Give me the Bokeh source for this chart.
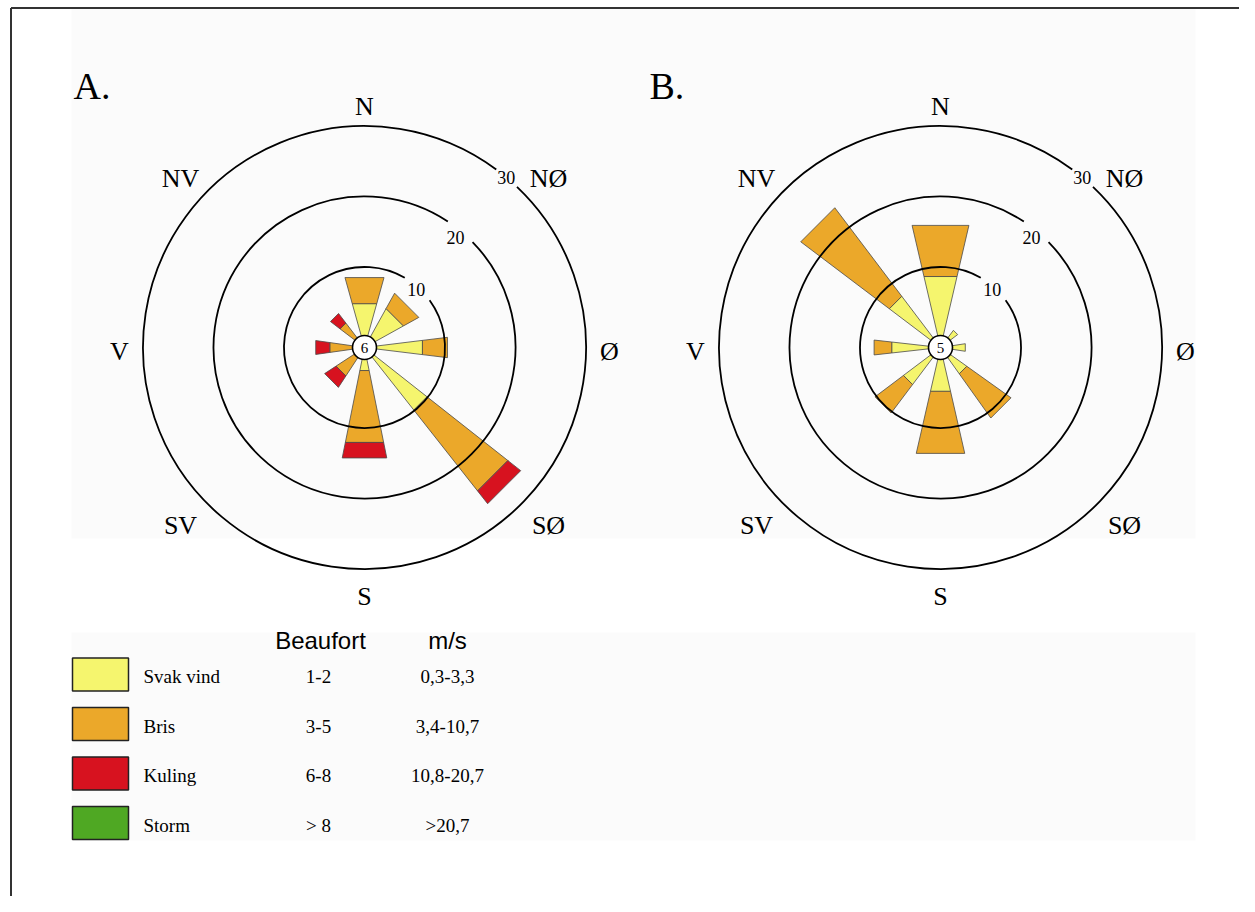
import math
from bokeh.plotting import figure
from bokeh.models import Range1d, ColumnDataSource
from bokeh.core.properties import value
from bokeh.embed import file_html
from bokeh.resources import INLINE

# ---------------- data ----------------
directions = ["N", "NØ", "Ø", "SØ", "S", "SV", "V", "NV"]
bearing = [0, 45, 90, 135, 180, 225, 270, 315]

# Panel A: wind frequency per class (percent)
a_svak = [4.8, 4.65, 6.8, 9.8, 1.85, 0.0, 0.0, 0.0]
a_bris = [3.7, 2.4, 3.55, 14.5, 10.2, 3.3, 3.5, 2.9]
a_kuling = [0.0, 0.0, 0.0, 2.3, 2.2, 1.9, 2.0, 1.7]
a_storm = [0.0] * 8
a_calm = "6"

# Panel B
b_svak = [8.65, 1.6, 2.1, 3.1, 4.8, 5.1, 5.5, 7.6]
b_bris = [7.25, 0.0, 0.0, 7.6, 8.8, 5.0, 2.5, 15.6]
b_kuling = [0.0] * 8
b_storm = [0.0] * 8
b_calm = "5"

# half-width of each sector (degrees)
a_half = [15.6, 16.0, 7.0, 6.75, 11.4, 11.8, 8.1, 7.7]
b_half = [13.1, 8.0, 8.7, 9.5, 12.9, 8.0, 6.4, 7.9]

ring_values = [10, 20, 30]
ring_labels = ["10", "20", "30"]

classes = ["Svak vind", "Bris", "Kuling", "Storm"]
beaufort = ["1-2", "3-5", "6-8", "> 8"]
ms = ["0,3-3,3", "3,4-10,7", "10,8-20,7", ">20,7"]
colors = ["#f5f56e", "#eba82a", "#d7121f", "#4fa823"]

# ---------------- figure ----------------
W, H = 1239, 896
p = figure(width=W, height=H, x_range=Range1d(0, W), y_range=Range1d(-H, 0),
           output_backend="svg", toolbar_location=None, min_border=0,
           x_axis_location=None, y_axis_location=None)
p.grid.visible = False
p.outline_line_color = None
p.background_fill_color = "white"
p.border_fill_color = "white"

SERIF = value("Liberation Serif")
SANS = value("Liberation Sans")

# light backgrounds
p.quad(left=[71, 71], right=[1195, 1195], top=[-8, -632], bottom=[-538, -840],
       fill_color="#fbfbfb", line_color=None)

# frame
p.segment(x0=[10.5, 10.5], y0=[-7.5, -7.5], x1=[W, 10.5], y1=[-7.5, -H],
          line_color="#333333", line_width=2)

R0, K = 10.0, 7.05


def R(v):
    return R0 + K * v


ring_gaps = [(30.0, 54.0), (33.5, 45.7), (36.5, 43.5)]
ring_label_angle = [42.0, 39.7, 39.8]
ring_label_inset = [3.0, 8.5, 0.0]


def rose(cx, cy, series, halves, calm, letter):
    xs, ys, fills = [], [], []
    for i, b in enumerate(bearing):
        cum = 0.0
        h = math.radians(halves[i])
        th = math.radians(b)
        sc = 1.0 / math.cos(h)
        for s, ser in enumerate(series):
            v = ser[i]
            if v <= 0:
                continue
            r_in = 0.0 if cum == 0 else R(cum)
            r_out = R(cum + v)
            px, py = [], []
            for r, a in [(r_in, th - h), (r_out, th - h), (r_out, th + h), (r_in, th + h)]:
                px.append(cx + r * sc * math.sin(a))
                py.append(cy + r * sc * math.cos(a))
            xs.append(px)
            ys.append(py)
            fills.append(colors[s])
            cum += v
    src = ColumnDataSource(dict(xs=xs, ys=ys, fill=fills))
    p.patches("xs", "ys", source=src, fill_color="fill", line_color="#4a4a4a", line_width=0.8)

    # rings with gaps for labels
    starts, ends, radii = [], [], []
    for rv, (g1, g2) in zip(ring_values, ring_gaps):
        radii.append(R(rv))
        starts.append(math.radians(90 - g1))
        ends.append(math.radians(90 - g2 + 360))
    p.arc(x=[cx] * 3, y=[cy] * 3, radius=radii, start_angle=starts, end_angle=ends,
          direction="anticlock", line_color="black", line_width=1.8)
    lx, ly = [], []
    for rv, ang, ins in zip(ring_values, ring_label_angle, ring_label_inset):
        r = R(rv) - ins
        lx.append(cx + r * math.sin(math.radians(ang)))
        ly.append(cy + r * math.cos(math.radians(ang)))
    p.text(x=lx, y=ly, text=ring_labels, text_font=SERIF, text_font_size="18px",
           text_align="center", text_baseline="middle", text_color="black")

    # calm circle
    p.circle(x=[cx], y=[cy], radius=12, fill_color="white", line_color="black", line_width=1.6)
    p.text(x=[cx], y=[cy], text=[calm], text_font=SERIF, text_font_size="15px",
           text_align="center", text_baseline="middle", text_color="black")

    # direction labels
    dx, dy = [], []
    for b in bearing:
        if b % 90 == 0:
            ox = 245 * math.sin(math.radians(b))
            oy = 245 * math.cos(math.radians(b))
        else:
            ox = 184 * (1 if math.sin(math.radians(b)) > 0 else -1)
            oy = 173.5 * (1 if math.cos(math.radians(b)) > 0 else -1)
        dx.append(cx + ox)
        dy.append(cy + oy - 4)
    p.text(x=dx, y=dy, text=directions, text_font=SERIF, text_font_size="26px",
           text_align="center", text_baseline="middle", text_color="black")

    # panel letter
    p.text(x=[cx - 291], y=[-85], text=[letter], text_font=SERIF, text_font_size="38px",
           text_align="left", text_baseline="middle", text_color="black")


rose(364, -347, [a_svak, a_bris, a_kuling, a_storm], a_half, a_calm, "A.")
rose(940, -347, [b_svak, b_bris, b_kuling, b_storm], b_half, b_calm, "B.")

# ---------------- legend ----------------
p.text(x=[320, 447], y=[-640, -640], text=["Beaufort", "m/s"], text_font=SANS,
       text_font_size="24px", text_align="center", text_baseline="middle", text_color="black")
row_y = [-(674 + 49.5 * i) for i in range(4)]
p.quad(left=[72] * 4, right=[128] * 4, top=[y + 16.5 for y in row_y], bottom=[y - 16.5 for y in row_y],
       fill_color=colors, line_color="#222222", line_width=1.5)
p.text(x=[143] * 4, y=[y - 2 for y in row_y], text=classes, text_font=SERIF, text_font_size="19px",
       text_align="left", text_baseline="middle", text_color="black")
p.text(x=[318] * 4, y=[y - 2 for y in row_y], text=beaufort, text_font=SERIF, text_font_size="19px",
       text_align="center", text_baseline="middle", text_color="black")
p.text(x=[447] * 4, y=[y - 2 for y in row_y], text=ms, text_font=SERIF, text_font_size="19px",
       text_align="center", text_baseline="middle", text_color="black")

open("out.html", "w").write(file_html(p, INLINE))
